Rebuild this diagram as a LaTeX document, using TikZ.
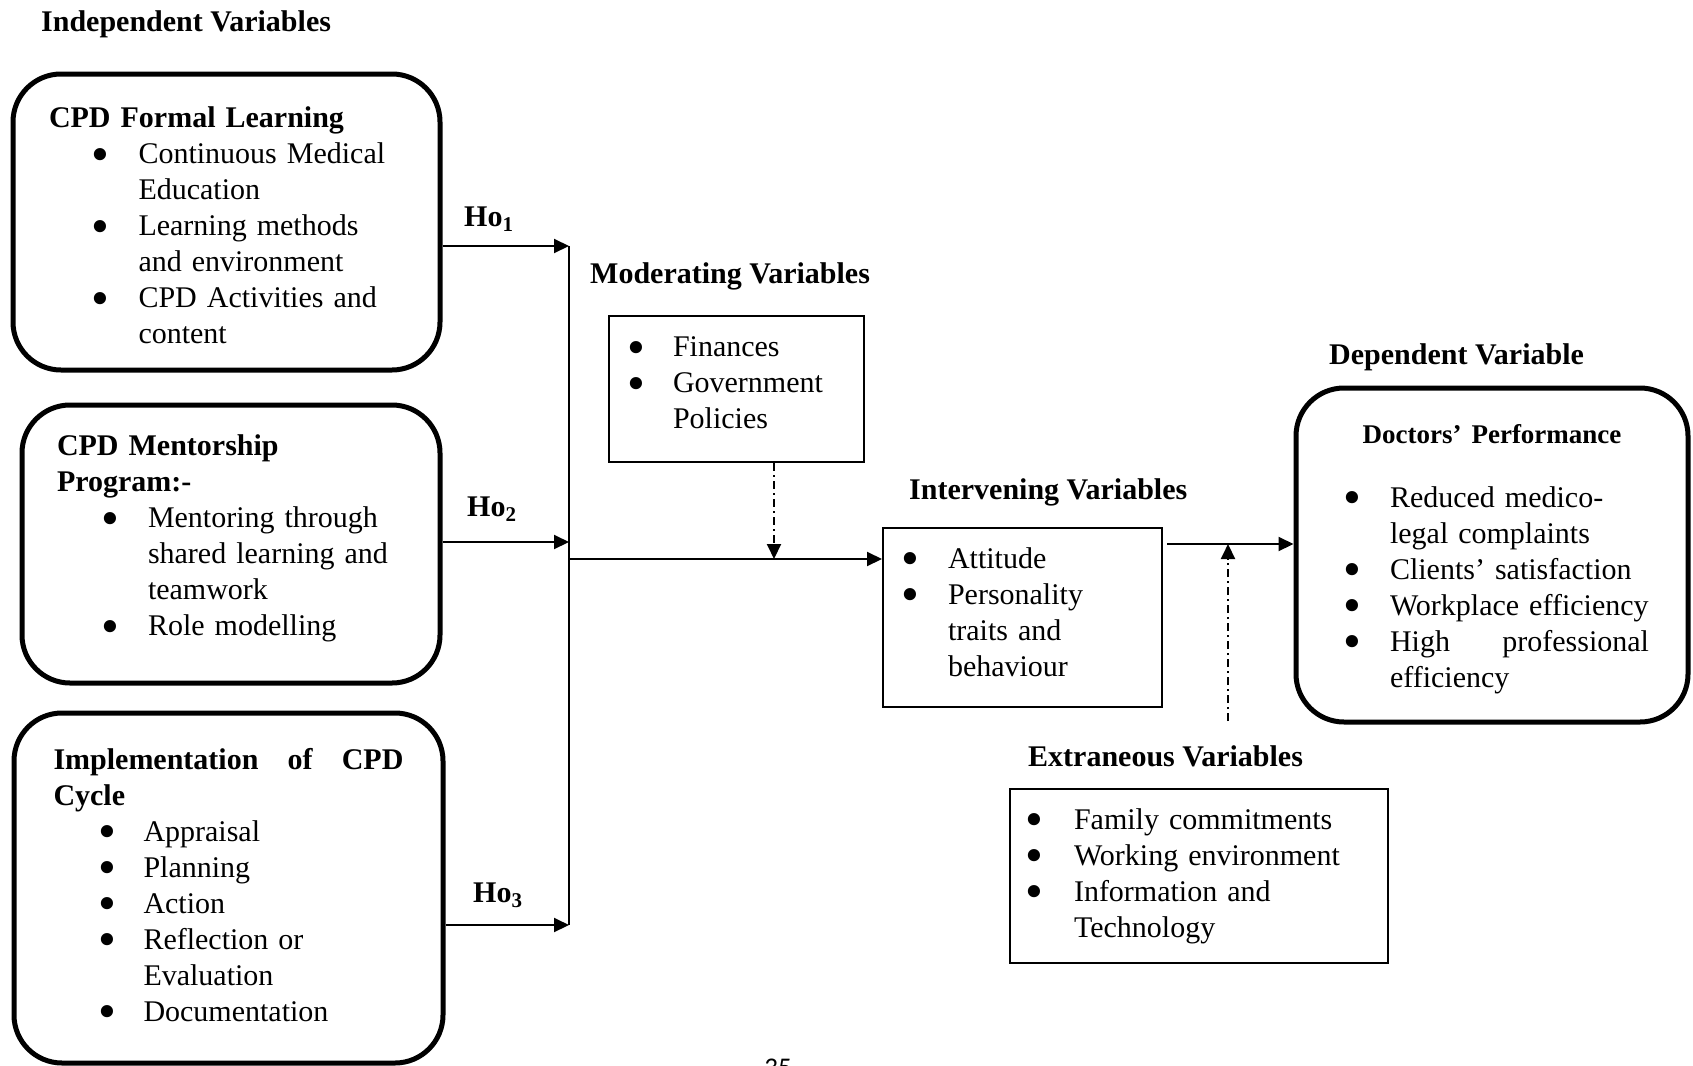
\documentclass[tikz,border=0pt]{standalone}
\usepackage{fontspec}
\setmainfont{Liberation Serif}
\newfontfamily\pagefont{Carlito}
\usetikzlibrary{arrows.meta, calc}

\newlength{\bpos}
\newlength{\tgap}
\newcommand{\itm}{\hspace*{\bpos}\makebox[0pt]{\raisebox{-7.5pt}{\scalebox{1.7}{\textbullet}}}\hspace*{\tgap}}
\newcommand{\cnt}{\hspace*{\bpos}\hspace*{\tgap}}
\newcommand{\topline}[1]{\rule{0pt}{#1pt}}
\newcommand{\botline}[1]{\rule[-#1pt]{0pt}{0pt}}

\begin{document}
\begin{tikzpicture}[x=1pt,y=-1pt]
  \tikzset{every node/.style={inner sep=0pt, font=\fontsize{30}{36}\selectfont},
    bul/.style 2 args={execute at begin node={\setlength{\bpos}{#1pt}\setlength{\tgap}{#2pt}}},
    ivbox/.style={draw, line width=5pt, rounded corners=48pt, align=left},
    varbox/.style={draw, line width=2pt, align=left},
    vtitle/.style={anchor=base west, font=\fontsize{30}{36}\selectfont\bfseries},
    hlabel/.style={anchor=base west, font=\fontsize{30}{36}\selectfont\bfseries},
    wire/.style={line width=2pt},
    link/.style={wire, -{Triangle[length=15pt,width=14pt]}},
    effect/.style={link, dash pattern=on 8pt off 4pt on 2pt off 4pt}
  }
  \useasboundingbox (0,0) rectangle (1693,1065);
  % titles
  \node[vtitle] (indt) at (41,32) {Independent Variables};
  \node[vtitle] (modt) at (590,283) {Moderating Variables};
  \node[vtitle] (intt) at (909,499) {Intervening Variables};
  \node[vtitle] (dept) at (1329,364) {Dependent Variable};
  \node[vtitle] (ext) at (1028,766) {Extraneous Variables};
  % independent variables
  \node[ivbox, text width=355pt, inner xsep=36pt, minimum height=296pt, bul={51}{38.5}] (formal) at (226.5,222) {%
    \topline{38}\textbf{CPD Formal Learning}\\
    \itm Continuous Medical\\
    \cnt Education\\
    \itm Learning methods\\
    \cnt and environment\\
    \itm CPD Activities and\\
    \cnt content\strut};
  \node[ivbox, text width=348pt, inner xsep=35pt, minimum height=278pt, bul={53}{38}] (mentor) at (231,544) {%
    \strut\textbf{CPD Mentorship}\\
    \textbf{Program:-}\\
    \itm Mentoring through\\
    \cnt shared learning and\\
    \cnt teamwork\\
    \itm Role modelling\botline{22}};
  \node[ivbox, text width=350pt, inner xsep=39.5pt, minimum height=350pt, bul={54}{36}] (cycle) at (228.5,888) {%
    \strut\textbf{\makebox[350pt][l]{Implementation\hfill of\hfill CPD}}\\
    \textbf{Cycle}\\
    \itm Appraisal\\
    \itm Planning\\
    \itm Action\\
    \itm Reflection or\\
    \cnt Evaluation\\
    \itm Documentation\strut};
  % other variables
  \node[varbox, text width=225pt, inner xsep=15pt, minimum height=146pt, bul={12}{37}] (mod) at (736.5,389) {%
    \itm\strut Finances\\
    \itm Government\\
    \cnt Policies\botline{18}};
  \node[varbox, text width=249pt, inner xsep=15pt, minimum height=179pt, bul={12}{38}] (inter) at (1022.5,617.5) {%
    \itm\strut Attitude\\
    \itm Personality\\
    \cnt traits and\\
    \cnt behaviour\botline{16}};
  \node[varbox, text width=354pt, inner xsep=12pt, minimum height=174pt, bul={12}{40}] (extra) at (1199,876) {%
    \itm\strut Family commitments\\
    \itm Working environment\\
    \itm Information and\\
    \cnt Technology\strut};
  \node[ivbox, text width=318pt, inner xsep=37pt, minimum height=334pt, bul={19}{38}] (dep) at (1492,555) {%
    \topline{31}\makebox[318pt][c]{\fontsize{27}{32}\selectfont\bfseries Doctors’ Performance}\\[28pt]
    \itm Reduced medico-\\
    \cnt legal complaints\\
    \itm Clients’ satisfaction\\
    \itm Workplace efficiency\\
    \itm\makebox[259pt][l]{High\hfill professional}\\
    \cnt efficiency\strut};
  % hypotheses
  \node[hlabel] (h1) at (464,226) {Ho\textsubscript{1}};
  \node[hlabel] (h2) at (467,516) {Ho\textsubscript{2}};
  \node[hlabel] (h3) at (473,902) {Ho\textsubscript{3}};
  % connectors
  \coordinate (j1) at (569,246);
  \coordinate (j2) at (569,542);
  \coordinate (j3) at (569,925);
  \coordinate (jm) at (569,559);
  \coordinate (mx) at (774,559);
  \coordinate (jd) at (1167,544);
  \coordinate (ex) at (1228,721);
  \draw[link] (formal.east |- j1) -- (j1);
  \draw[link] (mentor.east |- j2) -- (j2);
  \draw[link] (cycle.east |- j3) -- (j3);
  \draw[wire] (j1) -- (j3);
  \draw[link] (jm) -- (jm -| inter.west);
  \draw[effect] (mx |- mod.south) -- (mx);
  \draw[link] (jd) -- (jd -| dep.west);
  \draw[effect] (ex) -- (ex |- jd);
  \node[font=\pagefont\fontsize{27}{32}\selectfont, anchor=base] (pg) at (778,1076) {35};
\end{tikzpicture}
\end{document}
